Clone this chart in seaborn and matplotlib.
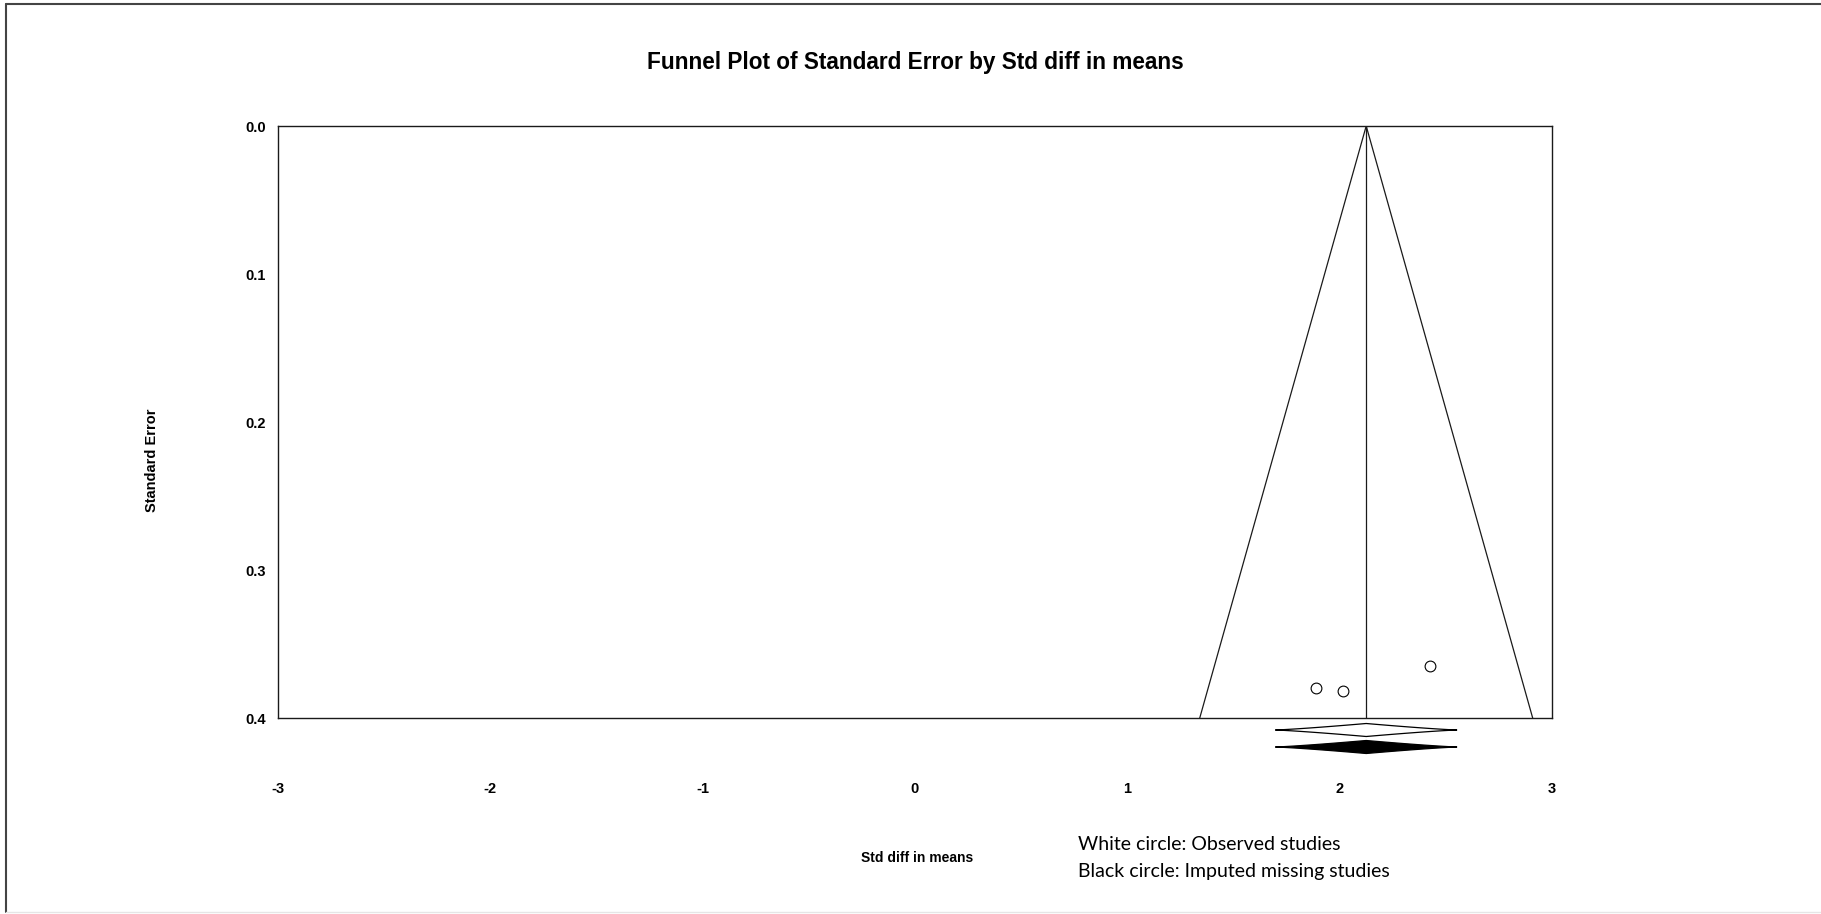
import matplotlib
matplotlib.use("Agg")
import matplotlib.pyplot as plt
from matplotlib.lines import Line2D
from matplotlib.patches import Polygon
import numpy as np
import pandas as pd
import seaborn as sns

# Observed studies: standardized mean difference and its standard error
effect = [1.889, 2.018, 2.426]
std_error = [0.380, 0.382, 0.365]

# Pooled estimate and its confidence interval (observed and adjusted)
pooled_effect = 2.125
ci_low = 1.696
ci_high = 2.553

x_ticks = [-3, -2, -1, 0, 1, 2, 3]
y_ticks = [0.0, 0.1, 0.2, 0.3, 0.4]

sns.set_theme(style="white")
plt.rcParams["font.family"] = ["Liberation Sans", "DejaVu Sans"]
plt.rcParams["text.color"] = "black"
plt.rcParams["xtick.color"] = "black"
plt.rcParams["ytick.color"] = "black"

fig = plt.figure(figsize=(18.21, 9.14), dpi=100)
ax = fig.add_axes([278 / 1821, 1 - 718 / 914, (1552 - 278) / 1821, (718 - 126) / 914])

# Funnel: pseudo 95% limits around the pooled effect
se_max = max(y_ticks)
funnel = pd.DataFrame({
    "x": [pooled_effect - 1.96 * se_max, pooled_effect, pooled_effect + 1.96 * se_max],
    "y": [se_max, 0.0, se_max],
})
sns.lineplot(data=funnel, x="x", y="y", sort=False, color="#1a1a1a",
             linewidth=0.9, ax=ax, estimator=None)
ax.plot([pooled_effect, pooled_effect], [0.0, se_max], color="#1a1a1a", linewidth=0.9)

studies = pd.DataFrame({"effect": effect, "se": std_error})
sns.scatterplot(data=studies, x="effect", y="se", ax=ax, s=60,
                facecolor="white", edgecolor="black", linewidth=0.8, zorder=5)

ax.set_xlim(-3, 3)
ax.set_ylim(0.4, 0.0)
ax.set_xticks(x_ticks)
ax.set_xticklabels([str(t) for t in x_ticks])
ax.set_yticks(y_ticks)
ax.set_yticklabels([f"{t:.1f}" for t in y_ticks])
ax.tick_params(axis="x", direction="inout", length=6, width=0.8, color="#222222",
               pad=43, labelsize=10.5)
ax.tick_params(axis="y", length=0, pad=9, labelsize=10.5)
for lbl in ax.get_xticklabels() + ax.get_yticklabels():
    lbl.set_fontweight("bold")
for sp in ax.spines.values():
    sp.set_visible(True)
    sp.set_color("#1a1a1a")
    sp.set_linewidth(1.0)
ax.set_xlabel("")
ax.set_ylabel("")

# Summary diamonds below the axis: observed (white) and adjusted (black)
px_y = 0.4 / (718 - 126)
half_h = 6.5 * px_y
t = np.linspace(-1, 1, 41)
for yc, face in [(0.4 + 12 * px_y, "white"), (0.4 + 29 * px_y, "black")]:
    xs = pooled_effect + t * (ci_high - pooled_effect)
    h = half_h * (1 - np.abs(t)) ** 1.2
    pts = np.vstack([np.column_stack([xs, yc - h]),
                     np.column_stack([xs[::-1], (yc + h)[::-1]])])
    diamond = Polygon(pts, closed=True, facecolor=face, edgecolor="black",
                      linewidth=0.9, clip_on=False, zorder=6)
    ax.add_patch(diamond)

fig.text(915 / 1821, 1 - 62 / 914, "Funnel Plot of Standard Error by Std diff in means",
         ha="center", va="center", fontsize=16.3, fontweight="bold")
fig.text(917 / 1821, 1 - 858 / 914, "Std diff in means",
         ha="center", va="center", fontsize=10, fontweight="bold")
fig.text(152 / 1821, 1 - 460 / 914, "Standard Error", rotation=90,
         ha="center", va="center", fontsize=10.5, fontweight="bold")
fig.text(1078 / 1821, 1 - 844 / 914, "White circle: Observed studies",
         ha="left", va="center", fontsize=14, family=["Lato", "DejaVu Sans"])
fig.text(1078 / 1821, 1 - 871 / 914, "Black circle: Imputed missing studies",
         ha="left", va="center", fontsize=14, family=["Lato", "DejaVu Sans"])

# Outer frame
fig.add_artist(Line2D([6 / 1821, 1.0], [1 - 4 / 914, 1 - 4 / 914],
                      transform=fig.transFigure, color="#444444", linewidth=1.5))
fig.add_artist(Line2D([6 / 1821, 6 / 1821], [1 - 4 / 914, 1 - 912 / 914],
                      transform=fig.transFigure, color="#444444", linewidth=1.5))
fig.add_artist(Line2D([6 / 1821, 1.0], [1 - 912 / 914, 1 - 912 / 914],
                      transform=fig.transFigure, color="#e6e6e6", linewidth=1.0))

fig.savefig("out.png", dpi=100, facecolor="white")
